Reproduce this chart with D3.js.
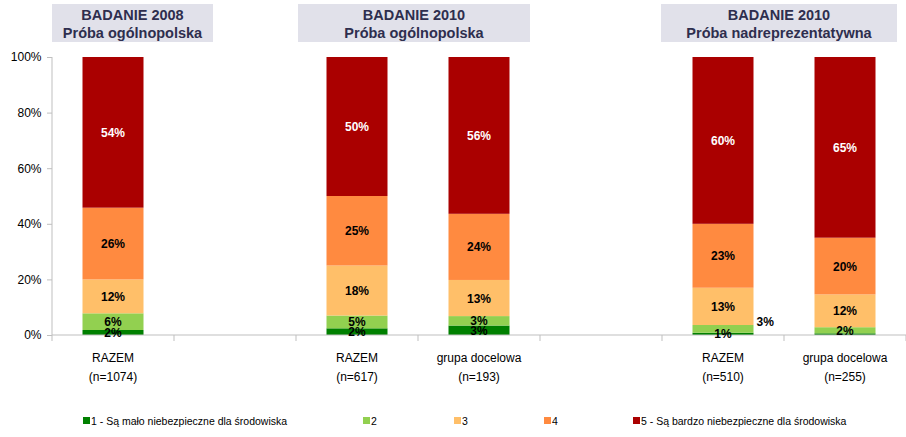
<!DOCTYPE html>
<html><head><meta charset="utf-8">
<script src="https://cdn.jsdelivr.net/npm/d3@7"></script>
<style>body{margin:0;background:#fff}svg{display:block}</style>
</head><body>
<script>
// ---- data ----
const catLine1 = ["RAZEM", "", "RAZEM", "grupa docelowa", "", "RAZEM", "grupa docelowa"];
const catLine2 = ["(n=1074)", "", "(n=617)", "(n=193)", "", "(n=510)", "(n=255)"];
const seriesNames = ["1 - Są mało niebezpieczne dla środowiska", "2", "3", "4", "5 - Są bardzo niebezpieczne dla środowiska"];
const s1 = [1.8, null, 2.4, 3.4, null, 0.8, 0.6];
const s2 = [6.0, null, 4.6, 3.4, null, 2.8, 2.2];
const s3 = [12.2, null, 18.0, 13.0, null, 13.4, 11.8];
const s4 = [25.8, null, 25.0, 23.8, null, 23.0, 20.4];
const s5 = [54.2, null, 50.0, 56.4, null, 60.0, 65.0];
const yTicks = [0, 20, 40, 60, 80, 100];
const headers = [
  {l1: "BADANIE 2008", l2: "Próba ogólnopolska"},
  {l1: "BADANIE 2010", l2: "Próba ogólnopolska"},
  {l1: "BADANIE 2010", l2: "Próba nadreprezentatywna"}
];
const hiddenLabels = [[6, 0]];      // [category, series] with no label
const outsideLabels = [[5, 1]];     // label drawn beside the bar

const colors = ["#008000", "#92D050", "#FFBF69", "#FF8A40", "#AA0000"];
const labelColors = ["#000", "#000", "#000", "#000", "#fff"];

const W = 906, H = 437;
const svg = d3.select("body").append("svg").attr("width", W).attr("height", H)
  .style("font-family", "'Liberation Sans', Arial, sans-serif");

const idx = d3.range(catLine1.length);
const x = d3.scaleBand().domain(idx).range([52, 906]).paddingInner(0.5).paddingOuter(0.25);
const xOuter = d3.scaleBand().domain(idx).range([52, 906]).padding(0);
const y = d3.scaleLinear().domain([0, 100]).range([335, 57]);

const series = [s1, s2, s3, s4, s5];
const rows = idx.filter(i => s1[i] !== null).map(i => {
  const r = {i};
  series.forEach((s, k) => r["k" + k] = s[i]);
  return r;
});
const keys = series.map((s, k) => "k" + k);
const stacked = d3.stack().keys(keys)(rows);

// header boxes
const hdrBoxes = [[52, 213], [298, 530], [661, 897]];
headers.forEach((h, j) => {
  const [x0, x1] = hdrBoxes[j];
  svg.append("rect").attr("x", x0).attr("y", 4).attr("width", x1 - x0).attr("height", 38).attr("fill", "#E1E1EA");
  const cx = (x0 + x1) / 2;
  svg.append("text").attr("x", cx).attr("y", 20).attr("text-anchor", "middle")
    .attr("font-size", 14.5).attr("font-weight", "bold").attr("fill", "#2E2E4E").text(h.l1);
  svg.append("text").attr("x", cx).attr("y", 37.5).attr("text-anchor", "middle")
    .attr("font-size", 14.5).attr("font-weight", "bold").attr("fill", "#2E2E4E").text(h.l2);
});

// bars
stacked.forEach((layer, k) => {
  svg.append("g").selectAll("rect").data(layer).join("rect")
    .attr("x", d => x(d.data.i)).attr("width", x.bandwidth())
    .attr("y", d => y(d[1])).attr("height", d => y(d[0]) - y(d[1]))
    .attr("fill", colors[k]);
});

// axes
const axisColor = "#BFBFBF";
const yAxis = svg.append("g").attr("transform", "translate(52,0)")
  .call(d3.axisLeft(y).tickValues(yTicks).tickSize(5).tickFormat(d => d + "%"));
yAxis.select(".domain").attr("stroke", axisColor).attr("d", `M0,${y(100)}V${y(0)}`);
yAxis.selectAll(".tick line").attr("stroke", axisColor);
yAxis.selectAll(".tick text").attr("font-size", 12).attr("fill", "#000").attr("x", -10.5)
  .attr("font-family", "'Liberation Sans', Arial, sans-serif");

const xg = svg.append("g");
xg.append("line").attr("x1", 52).attr("x2", 906).attr("y1", y(0)).attr("y2", y(0)).attr("stroke", axisColor);
const bounds = idx.map(i => xOuter(i)).concat([xOuter.range()[1]]);
xg.selectAll("line.t").data(bounds).join("line").attr("class", "t")
  .attr("x1", d => d).attr("x2", d => d).attr("y1", y(0)).attr("y2", y(0) + 6).attr("stroke", axisColor);

// category labels
idx.forEach(i => {
  if (!catLine1[i]) return;
  const cx = x(i) + x.bandwidth() / 2;
  svg.append("text").attr("x", cx).attr("y", 362).attr("text-anchor", "middle").attr("font-size", 12).text(catLine1[i]);
  svg.append("text").attr("x", cx).attr("y", 381).attr("text-anchor", "middle").attr("font-size", 12).text(catLine2[i]);
});

// value labels
const isIn = (list, i, k) => list.some(p => p[0] === i && p[1] === k);
stacked.forEach((layer, k) => {
  layer.forEach(d => {
    const i = d.data.i;
    if (isIn(hiddenLabels, i, k)) return;
    const v = d[1] - d[0];
    const t = svg.append("text").attr("font-size", 12).attr("font-weight", "bold")
      .attr("fill", labelColors[k]).text(Math.round(v) + "%");
    if (isIn(outsideLabels, i, k)) {
      t.attr("x", x(i) + x.bandwidth() + 3).attr("y", y((d[0] + d[1]) / 2) - 2.5).attr("text-anchor", "start");
    } else {
      t.attr("x", x(i) + x.bandwidth() / 2).attr("y", y((d[0] + d[1]) / 2) + 4.5).attr("text-anchor", "middle");
    }
  });
});

// legend
const legX = [83, 363, 454, 544, 633];
seriesNames.forEach((n, k) => {
  svg.append("rect").attr("x", legX[k]).attr("y", 417).attr("width", 7).attr("height", 7).attr("fill", colors[k]);
  svg.append("text").attr("x", legX[k] + 8).attr("y", 425).attr("font-size", 10.5)
    .attr("font-family", "'Liberation Sans Narrow', 'Liberation Sans', Arial, sans-serif")
    .text(n);
});
</script>
</body></html>
